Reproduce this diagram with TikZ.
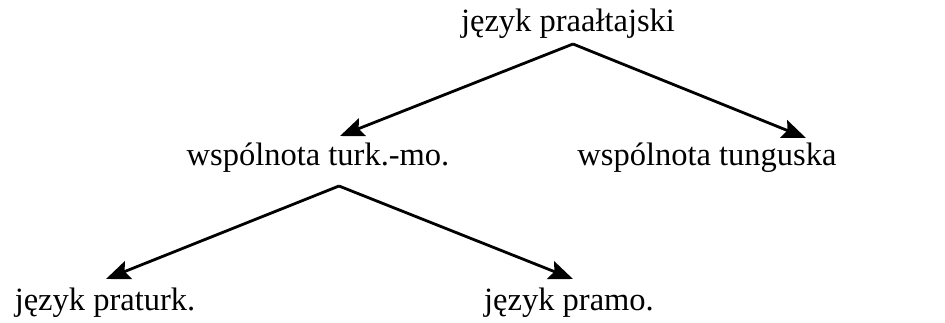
\documentclass[tikz,border=0pt]{standalone}
\usepackage{fontspec}
\setmainfont{Liberation Serif}
\usetikzlibrary{arrows.meta}
\begin{document}
\begin{tikzpicture}[x=1pt,y=-1pt,
  lbl/.style={anchor=base,inner sep=0pt,font=\fontsize{32.5}{38}\selectfont},
  edge/.style={line width=2.8pt,-{Stealth[length=24pt,width=19pt,inset=4pt]}}]
  \useasboundingbox (0,0) rectangle (945,322);
  % labels
  \node[lbl] (root) at (568,31) {język praałtajski};
  \node[lbl] (tm)   at (318,165) {wspólnota turk.-mo.};
  \node[lbl] (tung) at (707,165) {wspólnota tunguska};
  \node[lbl] (tr)   at (105,310) {język praturk.};
  \node[lbl] (mo)   at (569,310) {język pramo.};
  % branch points and arrow tips
  \coordinate (rootB) at (573,44);
  \coordinate (tmT)   at (340,136);
  \coordinate (tungT) at (806,138);
  \coordinate (tmB)   at (339,186);
  \coordinate (trT)   at (106,279);
  \coordinate (moT)   at (573,279);
  \draw[edge] (rootB) -- (tmT);
  \draw[edge] (rootB) -- (tungT);
  \draw[edge] (tmB) -- (trT);
  \draw[edge] (tmB) -- (moT);
\end{tikzpicture}
\end{document}
